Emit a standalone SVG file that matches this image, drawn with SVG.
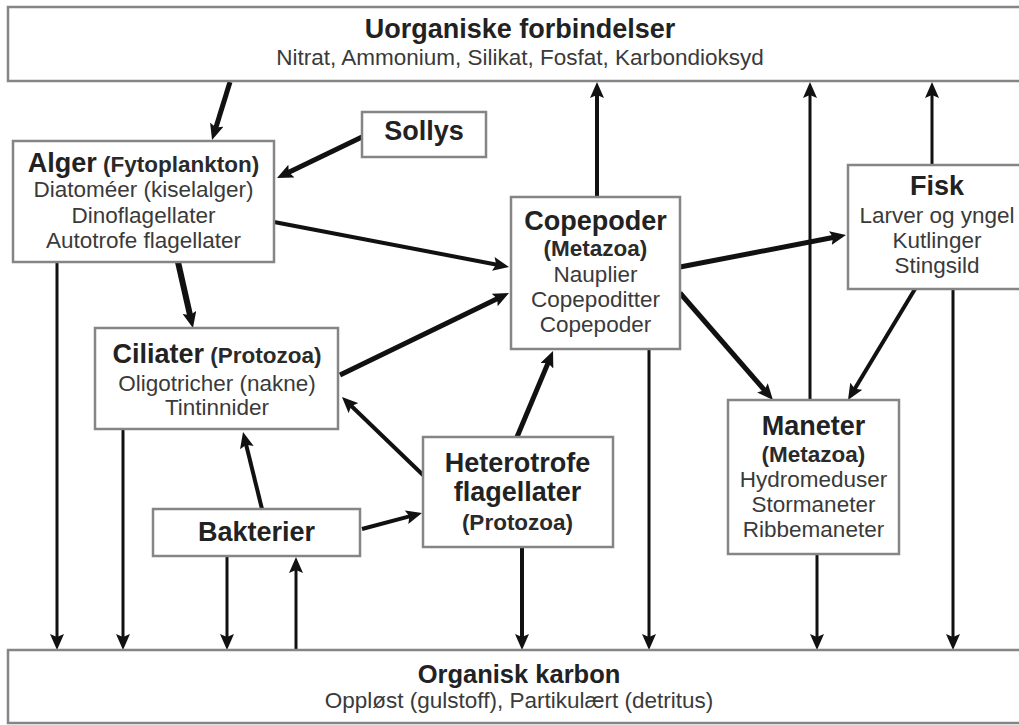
<svg xmlns="http://www.w3.org/2000/svg" width="1019" height="725" viewBox="0 0 1019 725">
<defs>
<style>
.box{fill:#fff;stroke:#858585;stroke-width:2.5}
text{font-family:"Liberation Sans",Arial,Helvetica,sans-serif;text-anchor:middle}
.t1{font-size:27px;font-weight:bold;fill:#222}
.t2{font-size:22.5px;font-weight:bold;fill:#2a2a2a}
.b{font-size:22.5px;fill:#3a3a3a}
.c{fill:none;stroke:#111;marker-end:url(#ah)}
.w3{stroke-width:3}
.w4{stroke-width:4}
.w5{stroke-width:5}
.w6{stroke-width:6}
</style>
<marker id="ah" markerUnits="userSpaceOnUse" viewBox="0 0 16 14" markerWidth="16" markerHeight="14" refX="4" refY="7" orient="auto">
<path d="M0,0 L16,7 L0,14 L3,7 z" fill="#111"/>
</marker>
</defs>
<rect width="1019" height="725" fill="#fff"/>

<g id="connectors">
<path class="c w5" d="M230,82 L215.6,128.5"/>
<path class="c w5" d="M362,137 L287.8,172.8"/>
<path class="c w4" d="M274,222 L497.2,264.7"/>
<path class="c w5" d="M340,375 L498.2,298.2"/>
<path class="c w6" d="M178,262 L190.3,316.3"/>
<path class="c w3" d="M57,262 L57,638"/>
<path class="c w3" d="M123,429 L123,638"/>
<path class="c w4" d="M423,475 L350.6,405.3"/>
<path class="c w4" d="M262,509 L245.9,443.7"/>
<path class="c w4" d="M362,529 L410.4,516.1"/>
<path class="c w5" d="M517,437 L548.4,362.1"/>
<path class="c w4" d="M522,547 L522,638"/>
<path class="c w3" d="M227,556 L227,638"/>
<path class="c w3" d="M296,650 L296,569"/>
<path class="c w4" d="M597,197 L597,94"/>
<path class="c w5" d="M680,267 L834.2,237.3"/>
<path class="c w5" d="M680,293 L765.1,390.9"/>
<path class="c w3" d="M649,349 L649,638"/>
<path class="c w3" d="M810,400 L810,94"/>
<path class="c w3" d="M817,554 L817,638"/>
<path class="c w3" d="M932,165 L932,94"/>
<path class="c w3" d="M953,289 L953,638"/>
<path class="c w4" d="M915,289 L854.2,389.7"/>
</g>

<g id="uorganiske">
<rect class="box" x="8" y="7" width="1030" height="74"/>
<text class="t1" x="520" y="38">Uorganiske forbindelser</text>
<text class="b" x="520" y="65">Nitrat, Ammonium, Silikat, Fosfat, Karbondioksyd</text>
</g>

<g id="sollys">
<rect class="box" x="362" y="112" width="124" height="45"/>
<text class="t1" x="424" y="140">Sollys</text>
</g>

<g id="alger">
<rect class="box" x="13" y="141" width="261" height="121"/>
<text x="143.5" y="172"><tspan class="t1">Alger</tspan><tspan class="t2"> (Fytoplankton)</tspan></text>
<text class="b" x="143.5" y="197">Diatoméer (kiselalger)</text>
<text class="b" x="143.5" y="223">Dinoflagellater</text>
<text class="b" x="143.5" y="248">Autotrofe flagellater</text>
</g>

<g id="copepoder">
<rect class="box" x="511" y="197" width="169" height="152"/>
<text class="t1" x="595.5" y="230">Copepoder</text>
<text class="t2" x="595.5" y="256">(Metazoa)</text>
<text class="b" x="595.5" y="282">Nauplier</text>
<text class="b" x="595.5" y="307">Copepoditter</text>
<text class="b" x="595.5" y="332">Copepoder</text>
</g>

<g id="fisk">
<rect class="box" x="848" y="165" width="200" height="124"/>
<text class="t1" x="937" y="195">Fisk</text>
<text class="b" x="937" y="223">Larver og yngel</text>
<text class="b" x="937" y="248">Kutlinger</text>
<text class="b" x="937" y="273">Stingsild</text>
</g>

<g id="ciliater">
<rect class="box" x="95" y="328" width="243" height="101"/>
<text x="217" y="363"><tspan class="t1">Ciliater</tspan><tspan class="t2"> (Protozoa)</tspan></text>
<text class="b" x="217" y="391">Oligotricher (nakne)</text>
<text class="b" x="217" y="415">Tintinnider</text>
</g>

<g id="heterotrofe">
<rect class="box" x="423" y="437" width="190" height="110"/>
<text class="t1" x="517.5" y="472">Heterotrofe</text>
<text class="t1" x="517.5" y="501">flagellater</text>
<text class="t2" x="517.5" y="530">(Protozoa)</text>
</g>

<g id="bakterier">
<rect class="box" x="153" y="509" width="207" height="47"/>
<text class="t1" x="256.5" y="541">Bakterier</text>
</g>

<g id="maneter">
<rect class="box" x="728" y="400" width="171" height="154"/>
<text class="t1" x="813.5" y="435">Maneter</text>
<text class="t2" x="813.5" y="462">(Metazoa)</text>
<text class="b" x="813.5" y="487">Hydromeduser</text>
<text class="b" x="813.5" y="512">Stormaneter</text>
<text class="b" x="813.5" y="537">Ribbemaneter</text>
</g>

<g id="organisk">
<rect class="box" x="8" y="650" width="1030" height="73"/>
<text class="t1" x="519" y="683" style="font-size:25.5px">Organisk karbon</text>
<text class="b" x="519" y="708">Oppløst (gulstoff), Partikulært (detritus)</text>
</g>
</svg>
